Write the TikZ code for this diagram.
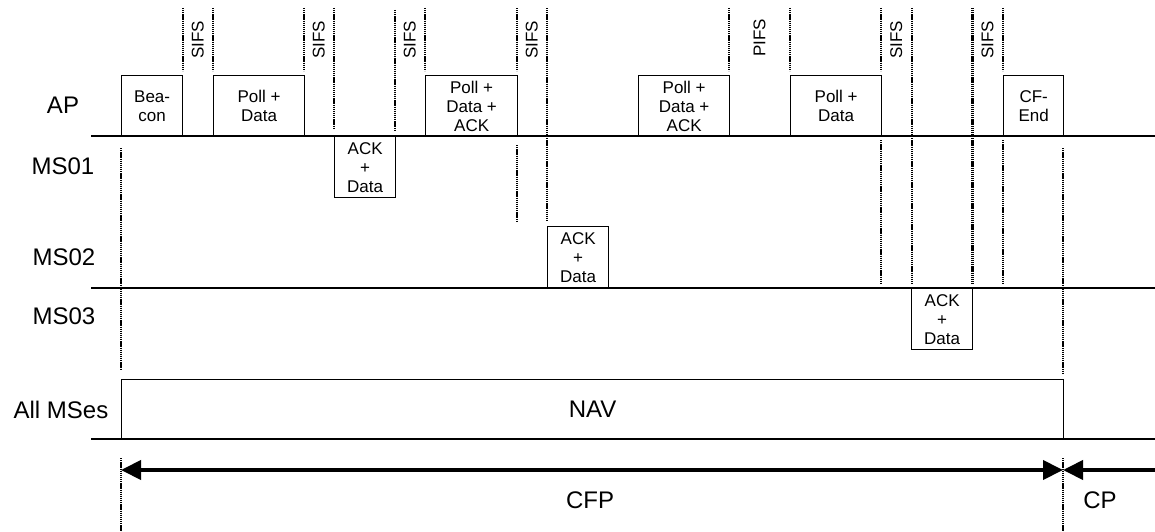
\documentclass[tikz,border=0pt]{standalone}
\usepackage{fontspec}
\setmainfont{Liberation Sans}
\usetikzlibrary{arrows.meta}
\begin{document}
\begin{tikzpicture}[x=1pt,y=-1pt,
  pkt/.style={draw, line width=1.3pt, inner sep=0pt, align=center, anchor=north west, minimum height=61pt, font=\fontsize{17}{19}\selectfont},
  lbl/.style={font=\fontsize{24}{28}\selectfont, inner sep=0pt},
  ifs/.style={rotate=90, font=\fontsize{17}{19}\selectfont, inner sep=0pt, xshift=2pt},
  tl/.style={line width=2.5pt},
  dotl/.style={line width=2.2pt, dash pattern=on 1.3pt off 0.8pt},
  tri/.tip={Triangle[length=20pt,width=19pt]}
]
\useasboundingbox (0,0) rectangle (1155,532);

% labels
\node[lbl] (lap) at (63,105) {AP};
\node[lbl] (lms1) at (63,166) {MS01};
\node[lbl] (lms2) at (64,257) {MS02};
\node[lbl] (lms3) at (64,316) {MS03};
\node[lbl] (lall) at (61,410) {All MSes};

% packets
\node[pkt, minimum width=61pt] (beacon) at (121,75) {Bea-\\con};
\node[pkt, minimum width=91pt] (poll1) at (213,75) {Poll +\\Data};
\node[pkt, minimum width=61pt] (ack1) at (334,136) {ACK\\+\\Data};
\node[pkt, minimum width=92pt] (pda1) at (425,75) {Poll +\\Data +\\ACK};
\node[pkt, minimum width=61pt, minimum height=62pt] (ack2) at (547,226) {ACK\\+\\Data};
\node[pkt, minimum width=91pt] (pda2) at (638,75) {Poll +\\Data +\\ACK};
\node[pkt, minimum width=91pt] (poll2) at (790,75) {Poll +\\Data};
\node[pkt, minimum width=61pt] (ack3) at (911,288) {ACK\\+\\Data};
\node[pkt, minimum width=60pt] (cfend) at (1003,75) {CF-\\End};
\node[pkt, minimum width=942pt, minimum height=60pt, font=\fontsize{24}{28}\selectfont] (nav) at (121,379) {NAV};

% time lines
\coordinate (apL) at (91,136);  \coordinate (apR) at (1155,136);
\coordinate (m2L) at (91,288);  \coordinate (m2R) at (1155,288);
\coordinate (alL) at (91,439);  \coordinate (alR) at (1155,439);
\draw[tl] (apL) -- (apR);
\draw[tl] (m2L) -- (m2R);
\draw[tl] (alL) -- (alR);

% interframe spaces
\node[ifs] (s1) at (197.7,42) {SIFS};
\node[ifs] (s2) at (318.7,42) {SIFS};
\node[ifs] (s3) at (409.7,42) {SIFS};
\node[ifs] (s4) at (531.7,42) {SIFS};
\node[ifs] (p1) at (759.5,40) {PIFS};
\node[ifs] (s5) at (896.3,42) {SIFS};
\node[ifs] (s6) at (987.6,42) {SIFS};

% dotted markers
\draw[dotl] (121,148) -- (121,370);
\draw[dotl] (121,458) -- (121,532);
\draw[dotl] (182.7,8) -- (182.7,71);
\draw[dotl] (212.7,8) -- (212.7,71);
\draw[dotl] (304,8) -- (304,71);
\draw[dotl] (333.7,8) -- (333.7,128);
\draw[dotl] (395,10) -- (395,130);
\draw[dotl] (424.7,8) -- (424.7,71);
\draw[dotl] (516.7,8) -- (516.7,71);
\draw[dotl] (516.7,145) -- (516.7,222);
\draw[dotl] (546.7,8) -- (546.7,222);
\draw[dotl] (729,8) -- (729,71);
\draw[dotl] (790,8) -- (790,71);
\draw[dotl] (881,8) -- (881,71);
\draw[dotl] (881,140) -- (881,284);
\draw[dotl] (911.7,8) -- (911.7,284);
\draw[dotl] (972.5,8) -- (972.5,284);
\draw[dotl] (1002.7,8) -- (1002.7,71);
\draw[dotl] (1002.7,140) -- (1002.7,284);
\draw[dotl] (1063,148) -- (1063,373);
\draw[dotl] (1063,458) -- (1063,532);

% periods
\coordinate (cfpL) at (121,470);
\coordinate (cfpR) at (1063,470);
\coordinate (cpR) at (1155,470);
\draw[line width=4pt, tri-tri] (cfpL) -- (cfpR);
\draw[line width=4pt, -tri] (cpR) -- (cfpR);
\node[lbl] (cfp) at (590,500) {CFP};
\node[lbl] (cp) at (1100,500) {CP};
\end{tikzpicture}
\end{document}
